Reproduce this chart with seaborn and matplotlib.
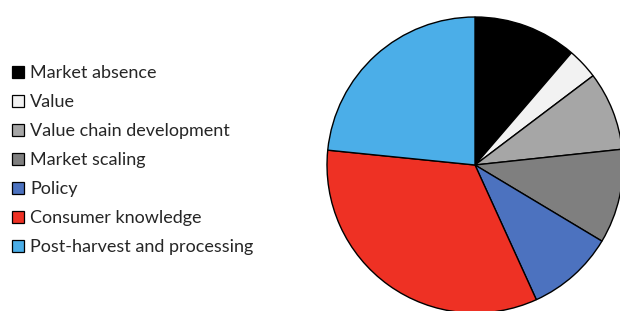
import matplotlib
matplotlib.use("Agg")
import matplotlib.pyplot as plt
from matplotlib.patches import Patch
import seaborn as sns

# slice shares (percent), clockwise from 12 o'clock
labels = ["Market absence", "Value", "Value chain development", "Market scaling",
          "Policy", "Consumer knowledge", "Post-harvest and processing"]
shares = [11.3, 3.4, 8.6, 10.3, 9.6, 33.4, 23.4]
colors = ["#000000", "#F2F2F2", "#A6A6A6", "#7F7F7F", "#4C72BF", "#EE3124", "#4BAEE8"]

sns.set_theme(style="white")
plt.rcParams["font.family"] = ["Lato", "DejaVu Sans"]

fig = plt.figure(figsize=(6.2, 3.11), dpi=100)
fig.patch.set_facecolor("white")

# pie axes: centre ~ (475, 165) px, radius ~ 148 px
r = 148
ax = fig.add_axes([(475 - r) / 620, (311 - 165 - r) / 311, 2 * r / 620, 2 * r / 311])
ax.pie(shares, colors=sns.color_palette(colors), startangle=90, counterclock=False,
       radius=1, wedgeprops=dict(edgecolor="black", linewidth=1.0))
ax.set_xlim(-1, 1)
ax.set_ylim(-1, 1)
ax.set_aspect("equal")
ax.axis("off")

handles = [Patch(facecolor=c, edgecolor="black", linewidth=0.9) for c in colors]
fig.legend(handles, labels, loc="center left", bbox_to_anchor=(0.008, 0.485),
           frameon=False, fontsize=13, handlelength=0.68, handleheight=0.68,
           handletextpad=0.3, labelspacing=0.72, borderaxespad=0)

fig.savefig("out.png", dpi=100)
